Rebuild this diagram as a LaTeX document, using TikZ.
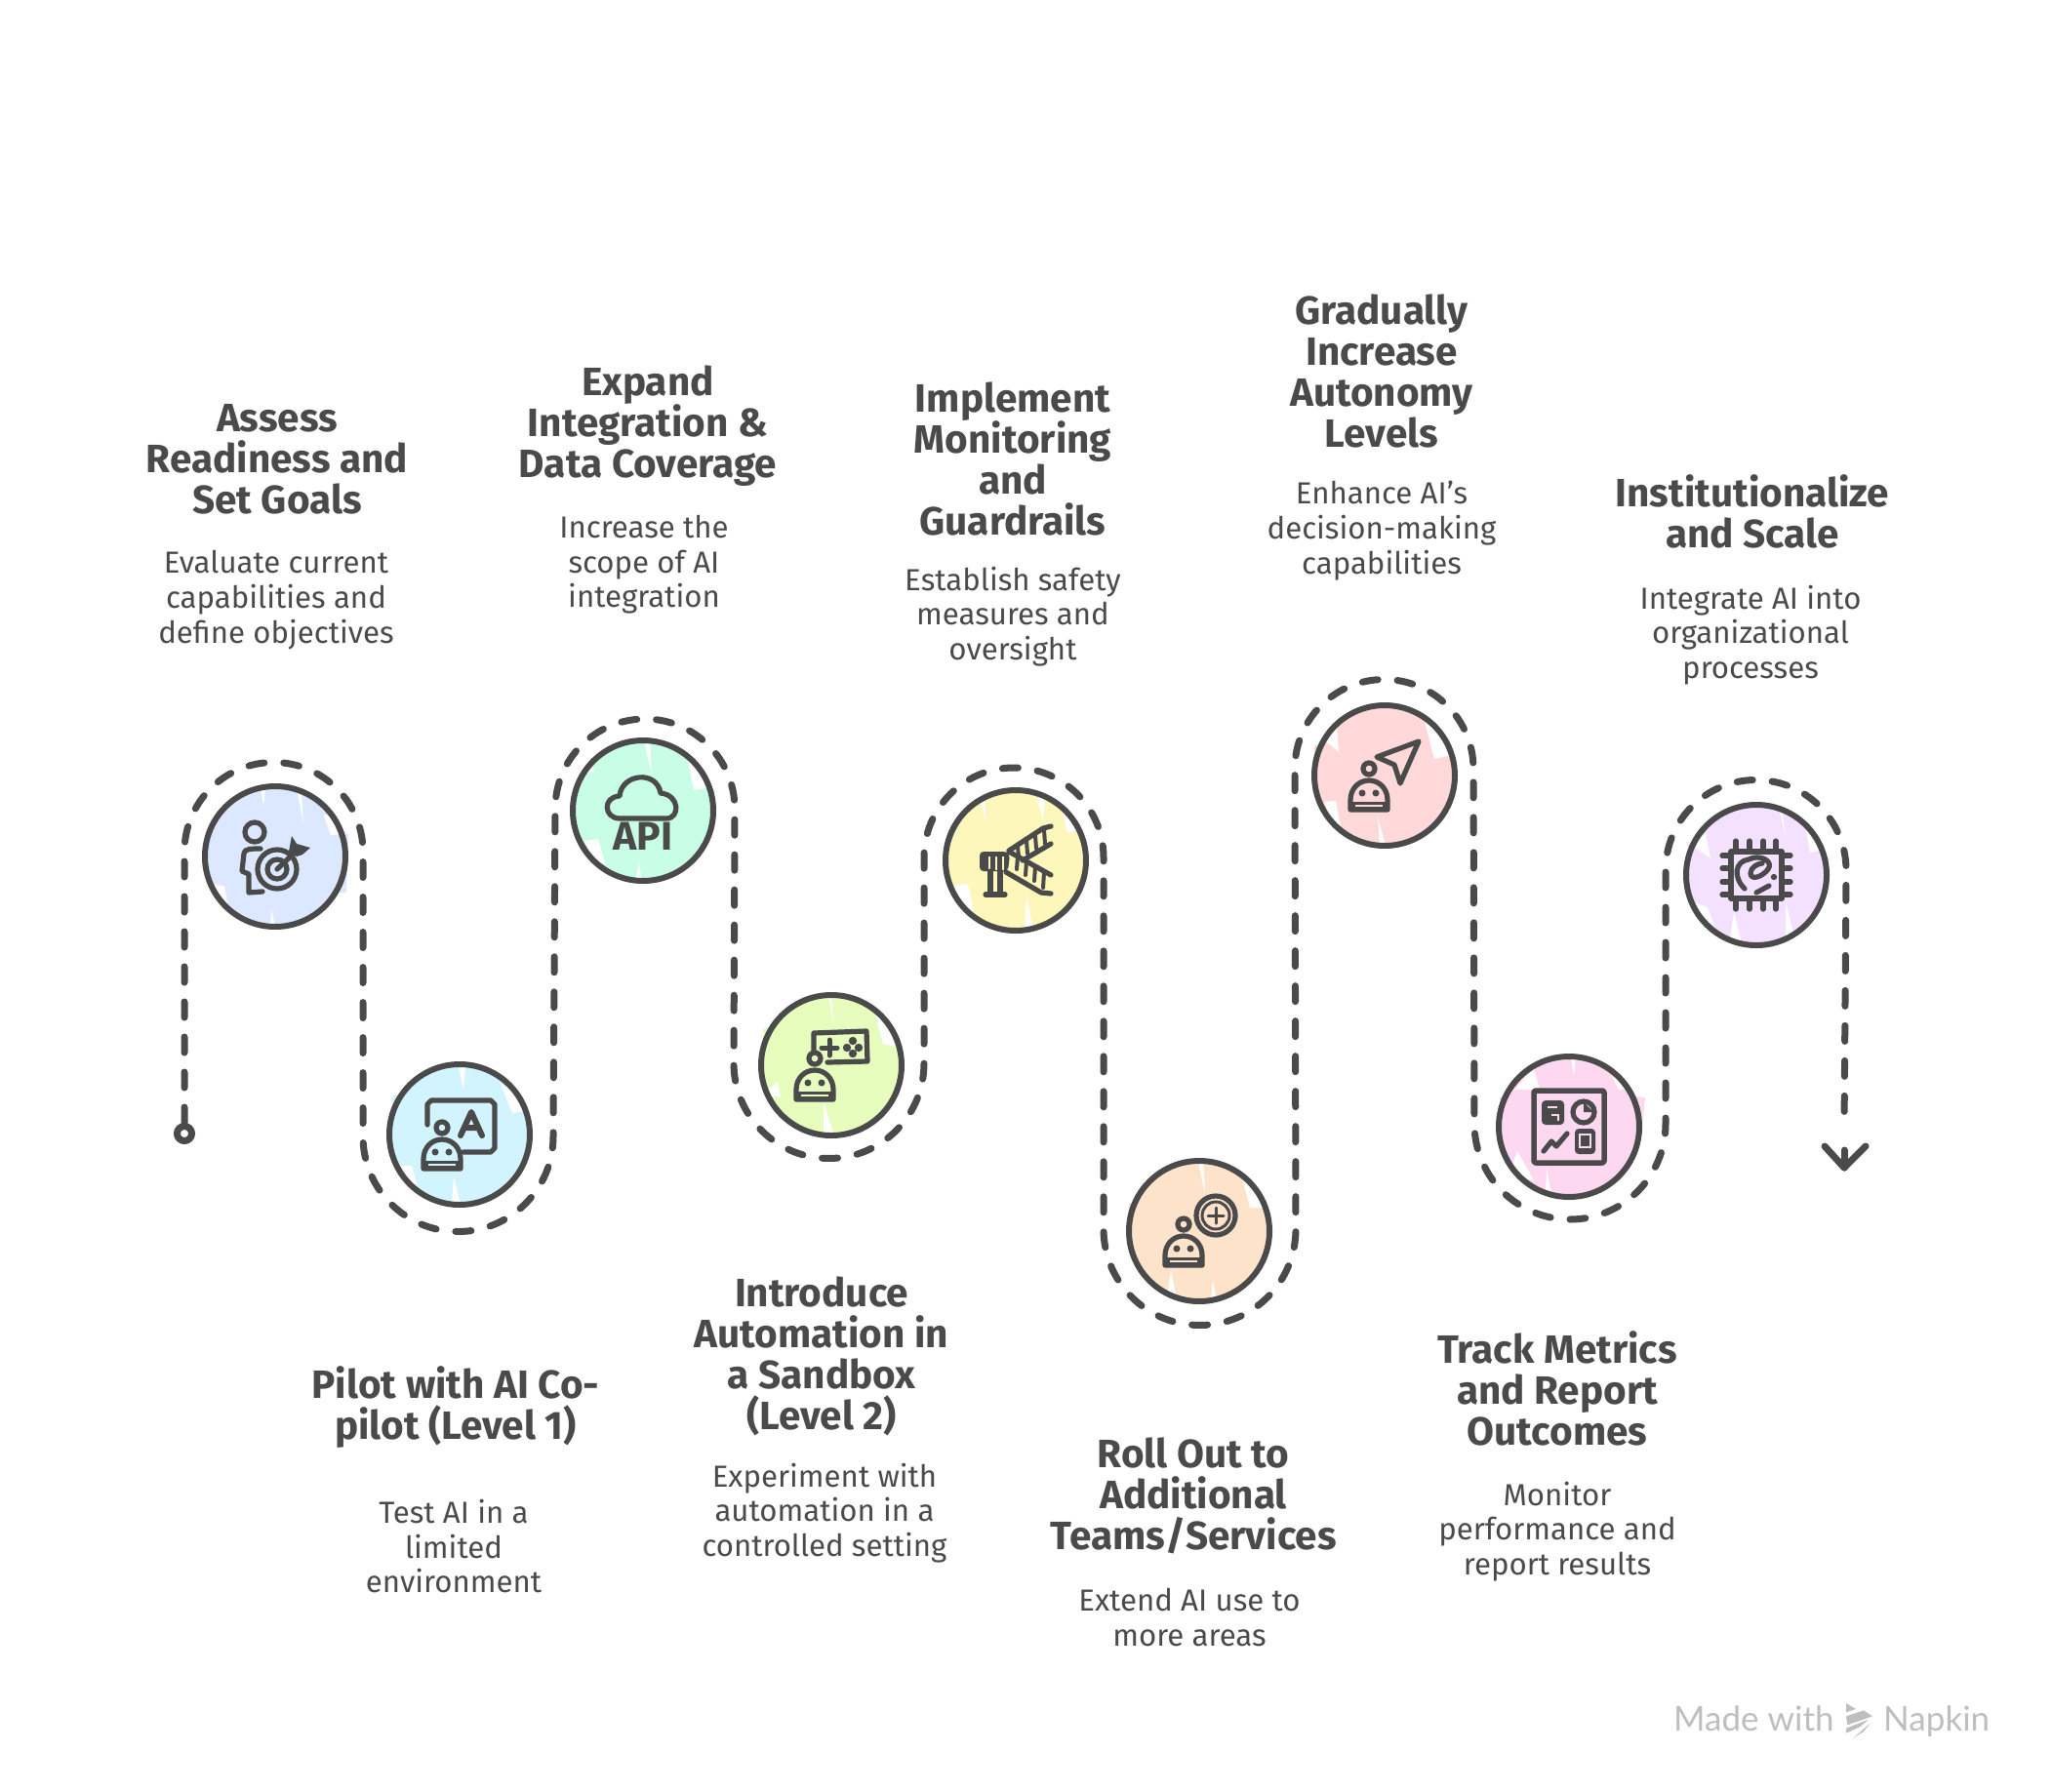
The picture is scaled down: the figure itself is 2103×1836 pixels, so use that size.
\documentclass[tikz,border=0pt]{standalone}
\usepackage{fontspec}
\setmainfont{Fira Sans}
\newfontfamily\markfont{Lato}
\usetikzlibrary{calc}
\definecolor{ink}{HTML}{4A4A4A}
\definecolor{wm}{HTML}{BEBEBE}
\definecolor{fa}{HTML}{DCE8FF}
\definecolor{fb}{HTML}{D2F4FF}
\definecolor{fc}{HTML}{C8FDE6}
\definecolor{fd}{HTML}{E6FDBE}
\definecolor{fe}{HTML}{FDF7BC}
\definecolor{ff}{HTML}{FEE3CB}
\definecolor{fg}{HTML}{FFD9D9}
\definecolor{fh}{HTML}{FDD8F0}
\definecolor{fi}{HTML}{F3E1FF}
\tikzset{
  disc/.style={circle,draw=ink,line width=6pt,minimum size=144pt,inner sep=0pt},
  ico/.style={draw=ink,line width=5.2pt,line cap=round,line join=round},
  serp/.style={draw=ink,line width=7pt,line cap=round,dash pattern=on 16pt off 20pt},
  headline/.style={draw=ink,line width=7pt,line cap=round,line join=round},
  ttl/.style={align=center,text=ink,inner sep=0pt,font=\fontsize{40.5}{42}\selectfont\bfseries},
  dsc/.style={align=center,text=ink,inner sep=0pt,font=\fontsize{31.2}{35.6}\selectfont},
  glyph/.style={text=ink,inner sep=0pt,font=\bfseries},
  wmtext/.style={text=wm,inner sep=0pt,font=\markfont\fontsize{35}{38}\selectfont},
}
\newcommand{\botat}[3]{%
  \begin{scope}[shift={(#1,#2)}]
    \draw[ico] (0,-44) circle (6);
    \draw[ico] (-19,-2) -- (-19,-12) .. controls (-19,-24) and (-10,-32) .. (0,-32) .. controls (10,-32) and (19,-24) .. (19,-12) -- (19,-2) -- cycle;
    \fill[ink] (-20,-10) rectangle (20,0);
    \draw[#3,line width=1.5pt] (-14,-6) -- (14,-6);
    \fill[ink] (-7,-19) circle (3.5);
    \fill[ink] (7,-19) circle (3.5);
  \end{scope}}
\begin{document}
\begin{tikzpicture}[x=1pt,y=-1pt]
\useasboundingbox (0,0) rectangle (2103,1836);
\coordinate (c1) at (282,878);
\coordinate (c2) at (471,1163);
\coordinate (c3) at (659,831);
\coordinate (c4) at (852,1092);
\coordinate (c5) at (1041,882);
\coordinate (c6) at (1229,1262);
\coordinate (c7) at (1419,795);
\coordinate (c8) at (1608,1155);
\coordinate (c9) at (1800,897);
% colour patches
\begin{scope}[shift={(c1)}]
  \fill[fa] (62,-25)--(75,-23)--(73,37)--(60,37)--cycle;
  \fill[fa] (0,0) circle (72);
  \fill[white] (-15,-70)--(-12,-52)--(-10,-70)--cycle (22,-68)--(29,-33)--(27,-65)--cycle (50,-42)--(57,-22)--(70,-23)--(60,-45)--cycle (-72,28)--(-52,30)--(-47,58)--(-62,50)--cycle (-4,53)--(0,72)--(-5,72)--cycle;
\end{scope}
\begin{scope}[shift={(c2)}]
  \fill[fb] (-60,-40)--(-69,-40)--(-67,25)--(-60,25)--cycle (60,-22)--(70,-20)--(70,25)--(60,25)--cycle;
  \fill[fb] (0,0) circle (72);
  \fill[white] (-1,-70)--(4,-45)--(6,-70)--cycle (42,-52)--(54,-22)--(66,-24)--(55,-45)--cycle (-62,32)--(-49,32)--(-41,62)--(-55,52)--cycle (-6,43)--(1,72)--(-8,72)--cycle;
\end{scope}
\begin{scope}[shift={(c3)}]
  \fill[fc] (60,-25)--(74,-20)--(64,5)--(55,5)--cycle;
  \fill[fc] (0,0) circle (72);
  \fill[white] (1,-72)--(9,-36)--(7,-72)--cycle (46,-52)--(52,-21)--(70,-24)--(60,-45)--cycle (-60,31)--(-46,29)--(-38,56)--(-52,50)--cycle (-4,54)--(-1,72)--(-8,72)--cycle (-52,-50)--(-50,-40)--(-60,-38)--cycle;
\end{scope}
\begin{scope}[shift={(c4)}]
  \fill[fd] (-60,-38)--(-70,-38)--(-68,-10)--(-60,-10)--cycle;
  \fill[fd] (0,0) circle (72);
  \fill[white] (-3,-70)--(2,-43)--(0,-72)--cycle (45,-52)--(53,-22)--(70,-18)--(60,-45)--cycle (-55,17)--(-52,33)--(-70,30)--cycle (-8,38)--(3,72)--(-8,72)--cycle;
\end{scope}
\begin{scope}[shift={(c5)}]
  \fill[fe] (60,-20)--(76,-8)--(62,10)--cycle (-60,-40)--(-68,-36)--(-60,-20)--cycle;
  \fill[fe] (0,0) circle (72);
  \fill[white] (-36,-62)--(-31,-39)--(-32,-68)--cycle (20,-70)--(28,-40)--(30,-70)--cycle (48,-50)--(53,-28)--(72,-33)--(60,-45)--cycle (-63,26)--(-49,24)--(-41,60)--(-55,50)--cycle (11,36)--(18,72)--(9,72)--cycle;
\end{scope}
\begin{scope}[shift={(c6)}]
  \fill[ff] (-60,-30)--(-72,-28)--(-74,15)--(-60,15)--cycle;
  \fill[ff] (0,0) circle (72);
  \fill[white] (-1,-70)--(6,-39)--(4,-72)--cycle (44,-54)--(52,-24)--(70,-24)--(60,-45)--cycle (-29,39)--(-23,70)--(-33,68)--cycle (14,50)--(18,72)--(12,72)--cycle;
\end{scope}
\begin{scope}[shift={(c7)}]
  \fill[fg] (-60,-35)--(-72,-30)--(-72,20)--(-60,20)--cycle;
  \fill[fg] (0,0) circle (72);
  \fill[white] (41,-55)--(51,-17)--(72,-22)--(60,-42)--cycle (-62,27)--(-50,26)--(-44,58)--(-55,48)--cycle (-7,42)--(1,72)--(-5,72)--cycle (-49,-50)--(-47,-24)--(-60,-35)--cycle;
\end{scope}
\begin{scope}[shift={(c8)}]
  \fill[fh] (60,-32)--(78,-30)--(74,10)--(62,10)--cycle (-60,-32)--(-72,-30)--(-60,-10)--cycle;
  \fill[fh] (0,0) circle (72);
  \fill[white] (2,-70)--(5,-52)--(7,-72)--cycle (-36,-60)--(-30,-38)--(-56,-38)--cycle (44,-52)--(51,-38)--(70,-40)--(60,-48)--cycle (-53,25)--(-36,55)--(-62,50)--cycle (-23,42)--(-18,70)--(-24,68)--cycle;
\end{scope}
\begin{scope}[shift={(c9)}]
  \fill[fi] (-55,-34)--(-72,-34)--(-64,-10)--(-55,-10)--cycle (62,-28)--(76,-16)--(62,-8)--cycle;
  \fill[fi] (0,0) circle (72);
  \fill[white] (-52,-42)--(-47,-17)--(-70,-33)--cycle (27,-62)--(30,-37)--(23,-70)--cycle (50,-50)--(55,-23)--(72,-27)--(60,-45)--cycle (-50,33)--(-42,55)--(-68,27)--cycle (30,27)--(38,60)--(30,62)--cycle (-23,38)--(-15,70)--(-27,66)--cycle;
\end{scope}
% discs
\node[disc] (n1) at (c1) {};
\node[disc] (n2) at (c2) {};
\node[disc] (n3) at (c3) {};
\node[disc] (n4) at (c4) {};
\node[disc] (n5) at (c5) {};
\node[disc] (n6) at (c6) {};
\node[disc] (n7) at (c7) {};
\node[disc] (n8) at (c8) {};
\node[disc] (n9) at (c9) {};
% serpentine path
\node[circle,draw=ink,line width=7pt,minimum size=15pt,inner sep=0pt] (startdot) at (189,1162) {};
\coordinate (p1) at (189,873);
\coordinate (p2) at (372,1165);
\coordinate (p3) at (569,829);
\coordinate (p4) at (752,1090);
\coordinate (p5) at (947,879);
\coordinate (p6) at (1131,1260);
\coordinate (p7) at (1327,788);
\coordinate (p8) at (1511,1152);
\coordinate (p9) at (1707,892);
\coordinate (tailend) at (1890,1158);
\coordinate (tip) at (1890,1197);
\draw[serp] (startdot.north) -- (p1) arc[start angle=180,end angle=360,radius=91.5]
  -- (p2) arc[start angle=180,end angle=0,radius=97.5]
  -- (p3) arc[start angle=180,end angle=360,radius=92]
  -- (p4) arc[start angle=180,end angle=0,radius=97.5]
  -- (p5) arc[start angle=180,end angle=360,radius=92]
  -- (p6) arc[start angle=180,end angle=0,radius=98.5]
  -- (p7) arc[start angle=180,end angle=360,radius=91.5]
  -- (p8) arc[start angle=180,end angle=0,radius=98]
  -- (p9) arc[start angle=180,end angle=360,radius=92.5]
  -- (tailend);
\draw[headline] (tip) ++(-20,-22) -- (tip) -- ++(22,-22);
\draw[headline] (tip) -- ++(0,-18);
% icon 1
\begin{scope}[shift={(c1)}]
  \draw[ico] (-21,-25) circle (10);
  \draw[ico] (-15,-8) .. controls (-24,-8) and (-32,-8) .. (-32,-3) -- (-34,15) -- (-27,18) -- (-27,37) -- (-13,36);
  \draw[ico] (2,13) circle (20);
  \draw[ico] (2,13) circle (10);
  \draw[ico] (2,13) -- (21,-5);
  \fill[ink] (14,-5) -- (17,-21) -- (22,-13) -- (36,-9) -- (28,-2) -- (22,0) -- cycle;
\end{scope}
% icon 2
\begin{scope}[shift={(c2)}]
  \draw[ico] (-33,-10) -- (-33,-31) -- (-29,-35) -- (32,-35) -- (36,-31) -- (36,14) -- (32,18) -- (4,18);
  \draw[ico,line width=6pt] (1,1) -- (12,-23) -- (23,1) (5,-7) -- (19,-7);
  \botat{-18}{37}{fb}
\end{scope}
% icon 3
\begin{scope}[shift={(c3)}]
  \draw[ico] (-24,8) .. controls (-40,8) and (-42,-14) .. (-24,-15) .. controls (-22,-38) and (14,-42) .. (18,-18) .. controls (38,-16) and (38,8) .. (24,8) -- cycle;
  \node[glyph,font=\fontsize{41}{41}\selectfont\bfseries] (apilabel) at (0,26) {API};
\end{scope}
% icon 4
\begin{scope}[shift={(c4)}]
  \draw[ico] (-18,-14) -- (-18,-33) -- (36,-35) -- (37,-4) -- (-4,-3);
  \draw[ink,line width=5pt,line cap=round] (-2,-26) -- (-2,-10) (-10,-18) -- (6,-18);
  \fill[ink] (22,-25) circle (4.2) (22,-12) circle (4.2) (16,-18) circle (4.2) (28,-18) circle (4.2);
  \botat{-17}{37}{fd}
\end{scope}
% icon 5
\begin{scope}[shift={(c5)}]
  \fill[ink,rounded corners=4pt] (-37,-9) -- (-37,11) -- (-8,11) -- (-6,-6) -- (-9,-9) -- cycle;
  \draw[fe,line width=2.5pt] (-27,-4) -- (-27,10) (-20,-4) -- (-20,10) (-13,-4) -- (-13,10);
  \draw[ico] (-26,11) -- (-26,34) (-16,11) -- (-16,34) (-31,35) -- (-11,35);
  \draw[ico] (-7,-9) -- (36,15) (-10,12) -- (26,33) -- (36,34);
  \draw[ico] (-7,-10) -- (28,-33) -- (36,-35) (7,0) -- (36,-17);
  \draw[ico,line width=4pt] (2,-4) -- (1,9) (11,1) -- (10,15) (20,6) -- (19,21) (29,12) -- (28,28);
  \draw[ico,line width=4pt] (2,-14) -- (3,-4) (11,-20) -- (12,-7) (20,-25) -- (21,-12) (29,-31) -- (30,-17);
\end{scope}
% icon 6
\begin{scope}[shift={(c6)}]
  \draw[ico] (17,-16) circle (20);
  \draw[ico,line width=3pt] (17,-16) circle (14);
  \draw[ink,line width=3pt,line cap=round] (17,-24) -- (17,-8) (9,-16) -- (25,-16);
  \botat{-16}{37}{ff}
\end{scope}
% icon 7
\begin{scope}[shift={(c7)}]
  \draw[ico] (35,-35) -- (-8,-19) -- (10,-11) -- (16,8) -- cycle;
  \botat{-16}{37}{fg}
\end{scope}
% icon 8
\begin{scope}[shift={(c8)}]
  \draw[ico,line width=5.5pt,rounded corners=2pt] (-36,-37) rectangle (36,37);
  \fill[ink,rounded corners=4pt] (-28,-27) rectangle (-5,-2);
  \draw[fh,line width=2pt] (-22,-20) -- (-12,-20) (-18,-12) -- (-11,-12) -- (-11,-6);
  \draw[ico] (15,-15) circle (11);
  \fill[ink] (15,-15) -- (15,-25) -- (25,-15) -- cycle;
  \draw[ico] (-26,25) -- (-18,15) -- (-13,20) -- (-2,7);
  \fill[ink,rounded corners=4pt] (6,2) rectangle (27,28);
  \draw[fh,line width=2pt] (11,8) rectangle (22,21);
\end{scope}
% icon 9
\begin{scope}[shift={(c9)}]
  \draw[ico,line width=5.5pt] (-26,-24) rectangle (26,24);
  \draw[ico] (-21,-35) -- (-21,-24) (-7,-35) -- (-7,-24) (7,-35) -- (7,-24) (20,-35) -- (20,-24)
             (-21,35) -- (-21,24) (-7,35) -- (-7,24) (7,35) -- (7,24) (20,35) -- (20,24)
             (-35,-20) -- (-26,-20) (-35,-7) -- (-26,-7) (-35,7) -- (-26,7) (-35,20) -- (-26,20)
             (35,-20) -- (26,-20) (35,-7) -- (26,-7) (35,7) -- (26,7) (35,20) -- (26,20);
  \draw[ico] (-12,14) .. controls (-24,2) and (-22,-14) .. (-8,-16) .. controls (4,-22) and (18,-14) .. (12,-6) .. controls (6,2) and (-6,6) .. (-6,-2) .. controls (-6,-8) and (2,-12) .. (6,-12);
  \draw[ico] (0,18) -- (13,11);
  \fill[ink] (18,2) circle (3.2);
\end{scope}
% titles
\node[ttl] (t1) at (284,471) {Assess\\Readiness and\\Set Goals};
\node[dsc] (d1) at (283,615) {Evaluate current\\capabilities and\\define objectives};
\node[ttl] (t2) at (467,1443) {Pilot with AI Co-\\pilot (Level 1)};
\node[dsc] (d2) at (465,1585) {Test AI in a\\limited\\environment};
\node[ttl] (t3) at (664,437) {Expand\\Integration \&\\Data Coverage};
\node[dsc] (d3) at (660,579) {Increase the\\scope of AI\\integration};
\node[ttl] (t4) at (842,1390) {Introduce\\Automation in\\a Sandbox\\(Level 2)};
\node[dsc] (d4) at (845,1551) {Experiment with\\automation in a\\controlled setting};
\node[ttl] (t5) at (1038,470) {Implement\\Monitoring\\and\\Guardrails};
\node[dsc] (d5) at (1038,632) {Establish safety\\measures and\\oversight};
\node[ttl] (t6) at (1223,1533) {Roll Out to\\Additional\\Teams/Services};
\node[dsc] (d6) at (1219,1658) {Extend AI use to\\more areas};
\node[ttl] (t7) at (1416,380) {Gradually\\Increase\\Autonomy\\Levels};
\node[dsc] (d7) at (1416,544) {Enhance AI's\\decision-making\\capabilities};
\node[ttl] (t8) at (1596,1423) {Track Metrics\\and Report\\Outcomes};
\node[dsc] (d8) at (1596,1570) {Monitor\\performance and\\report results};
\node[ttl] (t9) at (1796,524) {Institutionalize\\and Scale};
\node[dsc] (d9) at (1794,651) {Integrate AI into\\organizational\\processes};
% watermark
\node[wmtext,anchor=base west] (w1) at (1715,1774) {Made with};
\node[wmtext,anchor=base west] (w2) at (1930,1774) {Napkin};
\begin{scope}[shift={(1680,1720)},scale=0.3333]
  \fill[wm] (636,78)--(666,96)--(636,106)--cycle;
  \fill[wm] (636,118)--(690,100)--(717,118)--(640,145)--cycle;
  \fill[wm] (636,155)--(705,128)--(680,150)--(636,170)--cycle;
  \fill[wm] (658,185)--(710,140)--(690,165)--cycle;
\end{scope}
\end{tikzpicture}
\end{document}
